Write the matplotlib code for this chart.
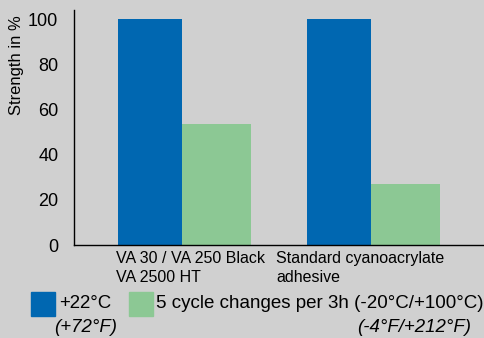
import matplotlib.pyplot as plt
import matplotlib.patches as mpatches
import numpy as np

plt.rcParams['font.family'] = ['Liberation Sans', 'DejaVu Sans']

# data
groups = ['VA 30 / VA 250 Black\nVA 2500 HT', 'Standard cyanoacrylate\nadhesive']
room_temp = [100, 100]      # +22°C
cycled = [53.6, 27]         # 5 cycle changes per 3h
yticks = [0, 20, 40, 60, 80, 100]

blue = '#0067b1'
green = '#8cc894'
bg = '#d0d0d0'

fig = plt.figure(figsize=(4.85, 3.38), dpi=100, facecolor=bg)
ax = fig.add_axes([74.3/485, 1-245/338, 1-74.3/485, 235/338])
ax.set_facecolor('none')

x = np.arange(len(groups))
ax.bar(x, room_temp, -0.338, align='edge', color=blue, zorder=2)
ax.bar(x, cycled, 0.365, align='edge', color=green, zorder=2)

ax.set_xlim(-0.567, 1.602)
ax.set_ylim(0, 104.1)

for s in ['top', 'right']:
    ax.spines[s].set_visible(False)
ax.spines['left'].set_linewidth(1.0)
ax.spines['bottom'].set_linewidth(1.0)

ax.set_yticks(yticks)
ax.set_yticklabels([str(t) for t in yticks], fontsize=13)
ax.tick_params(axis='y', length=0, pad=11.5)
ax.set_yticks([0], minor=True)
ax.tick_params(axis='y', which='minor', length=10.5, width=1.0)
ax.set_xticks([])

# category labels, left aligned under the bars
label_x = [-0.347, 0.498]
for lx, g in zip(label_x, groups):
    ax.text(lx, -2.8, g, ha='left', va='top', fontsize=11.5,
            linespacing=1.3, clip_on=False)

fig.text(17/485, 1-15/338, 'Strength in %', rotation=90, ha='center',
         va='top', fontsize=11.9)

# legend
fig.patches.append(mpatches.Rectangle((31/485, 1-316/338), 24/485, 24/338,
                                      color=blue, transform=fig.transFigure))
fig.patches.append(mpatches.Rectangle((129/485, 1-316/338), 24/485, 24/338,
                                      color=green, transform=fig.transFigure))
fig.text(59/485, 1-303/338, '+22°C', ha='left', va='center', fontsize=13.4)
fig.text(54/485, 1-328/338, '(+72°F)', ha='left', va='center', fontsize=13.4,
         style='italic')
fig.text(156/485, 1-303/338, '5 cycle changes per 3h (-20°C/+100°C)',
         ha='left', va='center', fontsize=13.5)
fig.text(471/485, 1-328/338, '(-4°F/+212°F)', ha='right', va='center',
         fontsize=13.4, style='italic')

fig.savefig('out.png', dpi=100, facecolor=bg)
